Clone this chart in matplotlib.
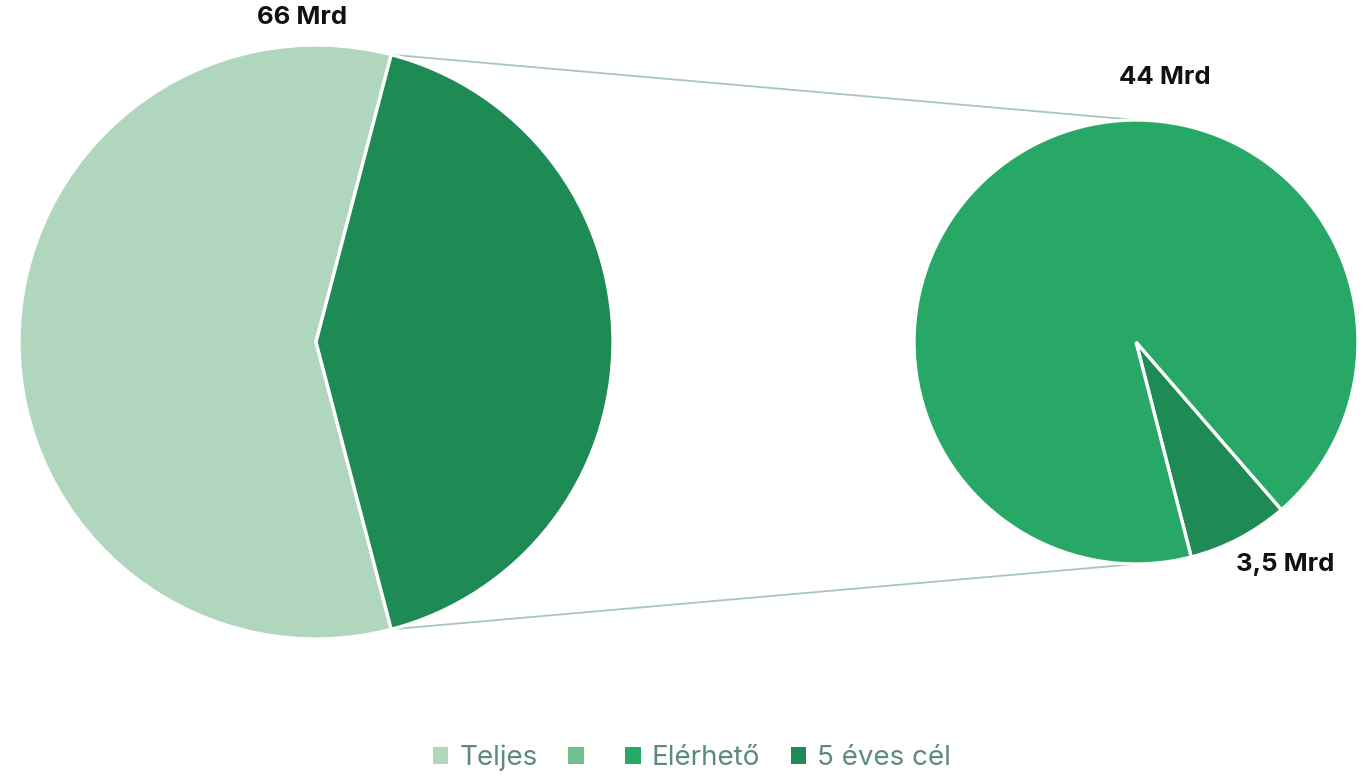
import numpy as np
import matplotlib.pyplot as plt
from matplotlib.patches import Patch

plt.rcParams['font.family'] = ['Inter', 'DejaVu Sans']

# data (Mrd)
teljes = 66
elerheto = 44
cel_5ev = 3.5
legend_labels = ["Teljes", "", "Elérhető", "5 éves cél"]
value_labels = ["66 Mrd", "44 Mrd", "3,5 Mrd"]

colors = {"Teljes": "#b0d6be", "": "#72c08f", "Elérhető": "#27a866", "5 éves cél": "#1e8b54"}

W, H = 1365, 775
fig = plt.figure(figsize=(W / 100, H / 100), dpi=100)
ax = fig.add_axes([0, 0, 1, 1])

# pie geometry in pixel units
c1, r1 = (316, H - 342), 297
c2, r2 = (1136, H - 342), 222

rest = elerheto + cel_5ev
rest_angle = rest / (teljes + rest) * 360
ax.pie([teljes, rest], colors=[colors["Teljes"], colors["5 éves cél"]],
       startangle=rest_angle / 2, center=c1, radius=r1,
       wedgeprops=dict(edgecolor="white", linewidth=2.4))

ax.pie([cel_5ev, elerheto], colors=[colors["5 éves cél"], colors["Elérhető"]],
       startangle=-75.6, center=c2, radius=r2,
       wedgeprops=dict(edgecolor="white", linewidth=2.4))

# connector lines
a = np.deg2rad(rest_angle / 2)
for s in (1, -1):
    x0 = c1[0] + r1 * np.cos(a)
    y0 = c1[1] + s * r1 * np.sin(a)
    ax.plot([x0, c2[0]], [y0, c2[1] + s * r2], color="#a9c4bb", lw=1.3, zorder=0)

lbl = dict(fontsize=18.5, fontweight="bold", color="#111111", ha="center", va="center")
ax.text(302, H - 18, value_labels[0], **lbl)
ax.text(1165, H - 78, value_labels[1], **lbl)
ax.text(1285, H - 565, value_labels[2], **lbl)

ax.set_xlim(0, W)
ax.set_ylim(0, H)
ax.set_aspect("equal")
ax.axis("off")

handles = [Patch(facecolor=colors[l], edgecolor="none") for l in legend_labels]
leg = fig.legend(handles, legend_labels, loc="center", bbox_to_anchor=(0.507, 1 - 758 / H),
                 ncol=4, frameon=False, fontsize=20, handlelength=0.55, handleheight=0.55,
                 handletextpad=0.4, columnspacing=1.1)
for t in leg.get_texts():
    t.set_color("#5d8a7f")

fig.savefig("out.png", dpi=100)
